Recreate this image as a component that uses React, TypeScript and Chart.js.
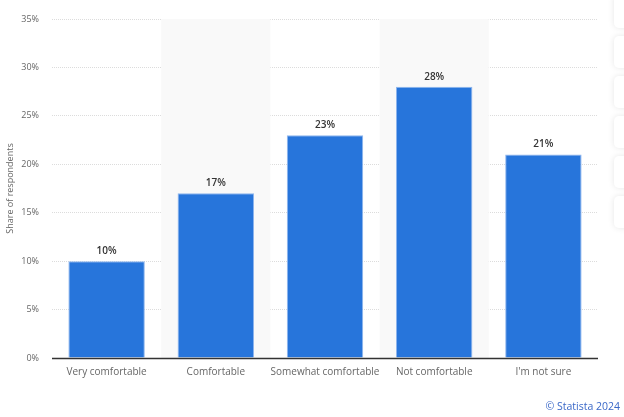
import React, { useEffect, useRef } from "react";
import { Chart, registerables } from "chart.js";

Chart.register(...registerables);

const categories = ["Very comfortable", "Comfortable", "Somewhat comfortable", "Not comfortable", "I'm not sure"];
const values = [10, 17, 23, 28, 21];
const shadedIndices = [1, 3];
const yTitle = "Share of respondents";
const credit = "© Statista 2024";

const FONT = "'Open Sans', 'DejaVu Sans', sans-serif";

const bandPlugin = {
  id: "bands",
  beforeDatasetsDraw(chart: any) {
    const { ctx, chartArea, scales } = chart;
    const x = scales.x;
    const w = (chartArea.right - chartArea.left) / categories.length;
    ctx.save();
    ctx.fillStyle = "#f9f9f9";
    shadedIndices.forEach((i) => {
      const c = x.getPixelForValue(i);
      ctx.fillRect(c - w / 2, chartArea.top, w, chartArea.bottom - chartArea.top);
    });
    ctx.restore();
  },
};

const axisPlugin = {
  id: "axisLine",
  afterDatasetsDraw(chart: any) {
    const { ctx, chartArea } = chart;
    ctx.save();
    ctx.strokeStyle = "#333333";
    ctx.lineWidth = 1.5;
    ctx.beginPath();
    ctx.moveTo(chartArea.left, chartArea.bottom + 0.5);
    ctx.lineTo(chartArea.right, chartArea.bottom + 0.5);
    ctx.stroke();
    ctx.restore();
  },
};

const labelPlugin = {
  id: "valueLabels",
  afterDatasetsDraw(chart: any) {
    const { ctx } = chart;
    const meta = chart.getDatasetMeta(0);
    ctx.save();
    ctx.fillStyle = "#333333";
    ctx.font = `600 10px ${FONT}`;
    ctx.textAlign = "center";
    ctx.textBaseline = "bottom";
    meta.data.forEach((bar: any, i: number) => {
      ctx.fillText(values[i] + "%", bar.x, bar.y - 5);
    });
    ctx.restore();
  },
};

export default function App() {
  const ref = useRef<HTMLCanvasElement | null>(null);
  useEffect(() => {
    if (!ref.current) return;
    const chart = new Chart(ref.current, {
      type: "bar",
      data: {
        labels: categories,
        datasets: [
          {
            data: values,
            backgroundColor: "#2775db",
            borderColor: "#8fb6ee",
            borderWidth: 1,
            barPercentage: 0.7,
            categoryPercentage: 1,
          },
        ],
      },
      options: {
        responsive: false,
        animation: false,
        layout: { padding: { top: 19, right: 26, left: 0, bottom: 0 } },
        plugins: {
          legend: { display: false },
          tooltip: { enabled: false },
        },
        scales: {
          x: {
            grid: { display: false, drawTicks: false },
            border: { display: false },
            ticks: {
              color: "#666666",
              font: { family: FONT, size: 10 },
              padding: 8,
              maxRotation: 0,
              autoSkip: false,
            },
            afterFit: (s: any) => {
              s.height = 59;
            },
          },
          y: {
            min: 0,
            max: 35,
            ticks: {
              stepSize: 5,
              color: "#666666",
              font: { family: FONT, size: 9 },
              padding: 13,
              callback: (v: any) => v + "%",
            },
            grid: {
              color: "#dcdcdc",
              drawTicks: false,
              lineWidth: 1,
            },
            border: { display: false, dash: [1, 1] },
            title: {
              display: true,
              text: yTitle,
              color: "#666666",
              font: { family: FONT, size: 9 },
              padding: { top: 5, bottom: 0 },
            },
            afterFit: (s: any) => {
              s.width = 52;
            },
          },
        },
      },
      plugins: [bandPlugin, axisPlugin, labelPlugin],
    });
    return () => chart.destroy();
  }, []);

  const buttons = [0, 36, 76, 116, 156, 196];
  return (
    <div style={{ position: "fixed", left: 0, top: 0, width: 624, height: 417, background: "#ffffff", overflow: "hidden" }}>
      <canvas ref={ref} width={624} height={417} style={{ position: "absolute", left: 0, top: 0 }} />
      {buttons.map((t, i) => (
        <div
          key={i}
          style={{
            position: "absolute",
            left: 614,
            top: t - (i === 0 ? 6 : 0),
            width: 30,
            height: i === 0 ? 34 : 32,
            background: "#ffffff",
            borderRadius: 5,
            boxShadow: "0 0 6px rgba(0,0,0,0.10)",
          }}
        />
      ))}
      <div
        style={{
          position: "absolute",
          right: 4,
          top: 399,
          fontFamily: FONT,
          fontSize: 10.5,
          color: "#3a68c8",
        }}
      >
        {credit}
      </div>
    </div>
  );
}
